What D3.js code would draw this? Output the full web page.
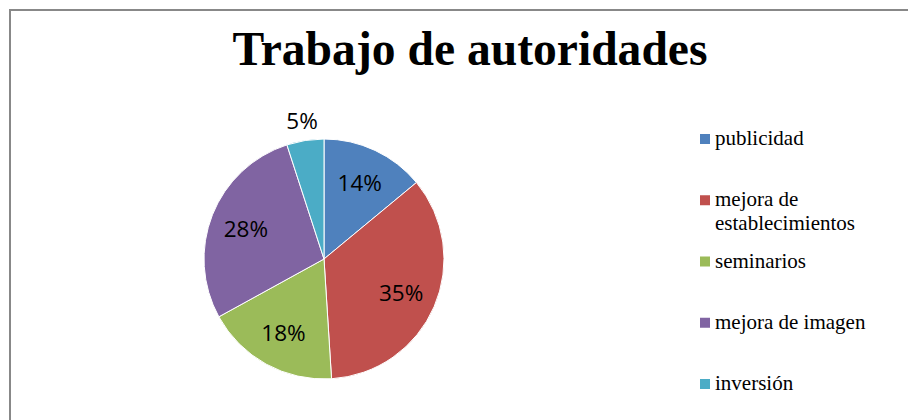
<!DOCTYPE html>
<html>
<head>
<meta charset="utf-8">
<script src="https://cdn.jsdelivr.net/npm/d3@7"></script>
<style>
  html, body { margin: 0; padding: 0; background: #fff; }
  svg { display: block; }
</style>
</head>
<body>
<svg id="chart" width="908" height="420"></svg>
<script>
const title = "Trabajo de autoridades";
const categories = ["publicidad", "mejora de establecimientos", "seminarios", "mejora de imagen", "inversión"];
const legendLines = [["publicidad"], ["mejora de", "establecimientos"], ["seminarios"], ["mejora de imagen"], ["inversión"]];
const values = [14, 35, 18, 28, 5];
const colors = ["#4F81BD", "#C0504D", "#9BBB59", "#8064A2", "#4BACC6"];

const svg = d3.select("#chart");
const W = 908, H = 420;

// outer frame
svg.append("rect")
  .attr("x", 10).attr("y", 10)
  .attr("width", W + 20).attr("height", H + 20)
  .attr("fill", "#fff")
  .attr("stroke", "#888").attr("stroke-width", 2);

// title
svg.append("text")
  .attr("x", 470).attr("y", 65)
  .attr("text-anchor", "middle")
  .attr("font-family", "'Liberation Serif', 'Times New Roman', serif")
  .attr("font-weight", "bold")
  .attr("font-size", 48)
  .attr("textLength", 475)
  .attr("lengthAdjust", "spacingAndGlyphs")
  .text(title);

// pie
const cx = 324, cy = 259, R = 120;
const total = d3.sum(values);
const pie = d3.pie().sort(null).value(d => d);
const arcs = pie(values);
const arc = d3.arc().innerRadius(0).outerRadius(R);
const labelArcIn = d3.arc().innerRadius(84).outerRadius(84);
const labelArcOut = d3.arc().innerRadius(140).outerRadius(140);

const g = svg.append("g").attr("transform", `translate(${cx},${cy})`);
g.selectAll("path.slice")
  .data(arcs)
  .enter().append("path")
  .attr("class", "slice")
  .attr("d", arc)
  .attr("fill", (d, i) => colors[i])
  .attr("stroke", "#fff")
  .attr("stroke-width", 1);

g.selectAll("text.lbl")
  .data(arcs)
  .enter().append("text")
  .attr("class", "lbl")
  .attr("transform", d => {
    const frac = (d.endAngle - d.startAngle) / (2 * Math.PI);
    const c = (frac < 0.08 ? labelArcOut : labelArcIn).centroid(d);
    return `translate(${c[0]},${c[1]})`;
  })
  .attr("text-anchor", "middle")
  .attr("dominant-baseline", "central")
  .attr("font-family", "'Open Sans', Carlito, Calibri, sans-serif")
  .attr("font-size", 22.5)
  .attr("fill", "#000")
  .text(d => Math.round(d.data / total * 100) + "%");

// legend
const legendY = d3.scalePoint().domain(categories).range([145, 390]);
const lg = svg.append("g");
categories.forEach((c, i) => {
  const y = legendY(c);
  lg.append("rect")
    .attr("x", 700).attr("y", y - 11)
    .attr("width", 10).attr("height", 10)
    .attr("fill", colors[i]);
  const t = lg.append("text")
    .attr("x", 715).attr("y", y)
    .attr("font-family", "'Liberation Serif', 'Times New Roman', serif")
    .attr("font-size", 21)
    .attr("fill", "#000");
  legendLines[i].forEach((ln, j) => {
    t.append("tspan").attr("x", 715).attr("y", y + j * 24).text(ln);
  });
});
</script>
</body>
</html>
